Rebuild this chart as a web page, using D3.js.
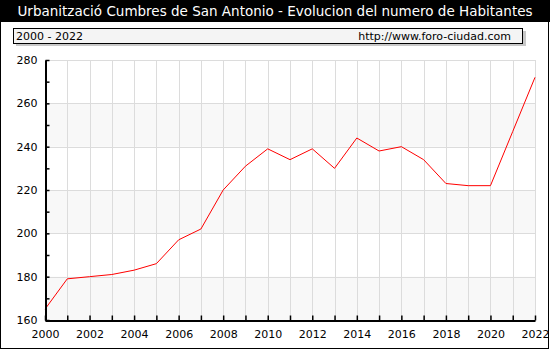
<!DOCTYPE html>
<html>
<head>
<meta charset="utf-8">
<script src="https://cdn.jsdelivr.net/npm/d3@7"></script>
<style>
  body { margin: 0; background: #fff; }
  text { font-family: "DejaVu Sans", Verdana, sans-serif; }
</style>
</head>
<body>
<script>
var w = 550;
var h = 350;

// data
var years = [2000, 2001, 2002, 2003, 2004, 2005, 2006, 2007, 2008, 2009, 2010,
             2011, 2012, 2013, 2014, 2015, 2016, 2017, 2018, 2019, 2020, 2021, 2022];
var habitantes = [165, 179, 180, 181, 183, 186, 197, 202, 220, 231, 239,
                  234, 239, 230, 244, 238, 240, 234, 223, 222, 222, 247, 272];
var yTicks = [160, 180, 200, 220, 240, 260, 280];
var xTicks = [2000, 2002, 2004, 2006, 2008, 2010, 2012, 2014, 2016, 2018, 2020, 2022];

var title = "Urbanització Cumbres de San Antonio - Evolucion del numero de Habitantes";
var periodo = "2000 - 2022";
var web = "http://www.foro-ciudad.com";

// plot box (don't use "top" as a global, it's window.top)
var plotL = 45, plotR = 535, plotT = 60, plotB = 320;

var x = d3.scaleLinear().domain([2000, 2022]).range([plotL, plotR]);
var y = d3.scaleLinear().domain([160, 280]).range([plotB, plotT]);

var svg = d3.select("body")
    .append("svg")
    .attr("width", w)
    .attr("height", h);

// outer frame + title bar
svg.append("rect")
    .attr("x", 0.5).attr("y", 0.5)
    .attr("width", w - 2).attr("height", h - 2)
    .attr("fill", "white")
    .attr("stroke", "black");
svg.append("rect")
    .attr("x", 0).attr("y", 0)
    .attr("width", w).attr("height", 22)
    .attr("fill", "black");
svg.append("text")
    .attr("x", w / 2).attr("y", 16)
    .attr("text-anchor", "middle")
    .attr("fill", "white")
    .style("font-size", "13.5px")
    .text(title);

// subtitle box with shadow
svg.append("rect")
    .attr("x", 16).attr("y", 31)
    .attr("width", 510).attr("height", 15)
    .attr("fill", "#c8c8c8");
svg.append("rect")
    .attr("x", 13.5).attr("y", 28.5)
    .attr("width", 509).attr("height", 15)
    .attr("fill", "#f4f4f4")
    .attr("stroke", "black");
svg.append("text")
    .attr("x", 16).attr("y", 40)
    .style("font-size", "11px")
    .text(periodo);
svg.append("text")
    .attr("x", 511).attr("y", 40)
    .attr("text-anchor", "end")
    .style("font-size", "11px")
    .text(web);

// alternating bands
svg.selectAll("rect.band")
    .data(yTicks.slice(0, -1).filter(function(d, i) { return i % 2 == 0; }))
    .enter()
    .append("rect")
    .attr("class", "band")
    .attr("x", plotL)
    .attr("y", function(d) { return y(d + 20); })
    .attr("width", plotR - plotL)
    .attr("height", function(d) { return y(d) - y(d + 20); })
    .attr("fill", "#f8f8f8");

// grid
svg.selectAll("line.vgrid")
    .data(years)
    .enter()
    .append("line")
    .attr("class", "vgrid")
    .attr("x1", function(d) { return Math.round(x(d)) + 0.5; })
    .attr("x2", function(d) { return Math.round(x(d)) + 0.5; })
    .attr("y1", plotT).attr("y2", plotB)
    .attr("stroke", "#dcdcdc");
svg.selectAll("line.hgrid")
    .data(yTicks)
    .enter()
    .append("line")
    .attr("class", "hgrid")
    .attr("x1", plotL).attr("x2", plotR)
    .attr("y1", function(d) { return Math.round(y(d)) + 0.5; })
    .attr("y2", function(d) { return Math.round(y(d)) + 0.5; })
    .attr("stroke", "#dcdcdc");

// line
var line = d3.line()
    .x(function(d, i) { return x(years[i]); })
    .y(function(d) { return y(d); });

svg.append("path")
    .datum(habitantes)
    .attr("d", line)
    .attr("fill", "none")
    .attr("stroke", "red")
    .attr("stroke-width", 1);

// axes
var yAxis = d3.axisLeft(y)
    .tickValues(d3.range(160, 281, 10))
    .tickSizeInner(-4)
    .tickSizeOuter(0)
    .tickFormat(function(d) { return d % 20 == 0 ? d : ""; });
var xAxis = d3.axisBottom(x)
    .tickValues(years)
    .tickSizeInner(-5)
    .tickSizeOuter(0)
    .tickFormat(function(d) { return xTicks.indexOf(d) >= 0 ? d : ""; });

var gy = svg.append("g")
    .attr("transform", "translate(" + (plotL + 0.5) + ",0)")
    .call(yAxis);
var gx = svg.append("g")
    .attr("transform", "translate(0," + (plotB + 0.5) + ")")
    .call(xAxis);

[gx, gy].forEach(function(g) {
    g.select(".domain").attr("stroke", "black").attr("stroke-width", 2);
    g.selectAll(".tick line").attr("stroke", "black").attr("stroke-width", 1.5);
    g.selectAll("text")
        .attr("fill", "black")
        .style("font-family", "'DejaVu Sans', Verdana, sans-serif")
        .style("font-size", "11px");
});
gy.selectAll("text").attr("x", -8);
gx.selectAll("text").attr("y", 10);
</script>
</body>
</html>
